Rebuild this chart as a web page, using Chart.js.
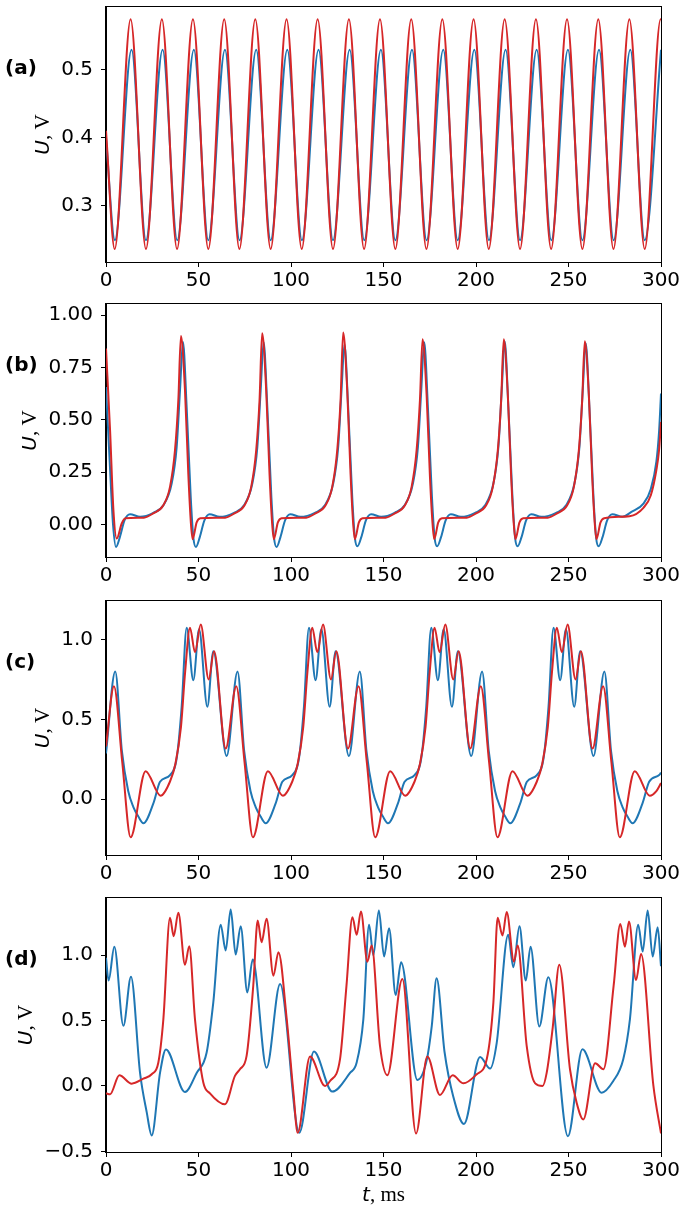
<!DOCTYPE html>
<html>
<head>
<meta charset="utf-8">
<title>U(t) traces</title>
<script src="https://cdn.jsdelivr.net/npm/chart.js@4.4.1/dist/chart.umd.min.js"></script>
<style>
  html, body { margin: 0; padding: 0; background: #fff; }
  #fig { position: relative; width: 687px; height: 1211px; }
  #fig canvas { position: absolute; left: 0; }
</style>
</head>
<body>
<div id="fig">
  <canvas id="panel-a" width="687" height="296" style="top:0px;width:687px;height:296px"></canvas>
  <canvas id="panel-b" width="687" height="296" style="top:296px;width:687px;height:296px"></canvas>
  <canvas id="panel-c" width="687" height="296" style="top:592px;width:687px;height:296px"></canvas>
  <canvas id="panel-d" width="687" height="323" style="top:888px;width:687px;height:323px"></canvas>
</div>
<script>
// ---- data (t in ms, U in V) ----

const xTicks = [0, 50, 100, 150, 200, 250, 300];
const xTickLabels = ['0', '50', '100', '150', '200', '250', '300'];

// (a)
const aYTicks = [0.3, 0.4, 0.5];
const aYTickLabels = ['0.3', '0.4', '0.5'];
const aRedT = [0, 4.7, 13.3, 21.6, 30.2, 38.4, 47.0, 55.3, 63.9, 72.1, 80.7, 89.0, 97.6,
  105.8, 114.4, 122.7, 131.3, 139.5, 148.1, 156.4, 165.0, 173.2, 181.8, 190.1, 198.7,
  206.9, 215.5, 223.8, 232.4, 240.6, 249.2, 257.5, 266.1, 274.3, 282.9, 291.2, 299.8, 300];
const aRedU = [0.41,
  0.236, 0.574, 0.236, 0.574, 0.236, 0.574,
  0.236, 0.574, 0.236, 0.574, 0.236, 0.574,
  0.236, 0.574, 0.236, 0.574, 0.236, 0.574,
  0.236, 0.574, 0.236, 0.574, 0.236, 0.574,
  0.236, 0.574, 0.236, 0.574, 0.236, 0.574,
  0.236, 0.574, 0.236, 0.574, 0.236, 0.574,
  0.574];
const aBlueT = [0, 4.8, 13.8, 21.6, 30.6, 38.5, 47.5, 55.3, 64.3, 72.2, 81.2, 89.0, 98.0,
  105.9, 114.9, 122.7, 131.7, 139.6, 148.6, 156.4, 165.4, 173.3, 182.3, 190.1, 199.1,
  207.0, 216.0, 223.8, 232.8, 240.7, 249.7, 257.5, 266.5, 274.4, 283.4, 291.2, 300];
const aBlueU = [0.40,
  0.249, 0.529, 0.249, 0.529, 0.249, 0.529,
  0.249, 0.529, 0.249, 0.529, 0.249, 0.529,
  0.249, 0.529, 0.249, 0.529, 0.249, 0.529,
  0.249, 0.529, 0.249, 0.529, 0.249, 0.529,
  0.249, 0.529, 0.249, 0.529, 0.249, 0.529,
  0.249, 0.529, 0.249, 0.529, 0.249, 0.529];

// (b)
const bYTicks = [0, 0.25, 0.5, 0.75, 1.0];
const bYTickLabels = ['0.00', '0.25', '0.50', '0.75', '1.00'];
const bRedT = [0, 2.2, 4.0, 5.8, 8.5, 10.5, 20.5, 25.5, 31.0, 34.6, 37.3, 39.1, 40.5,
  42.7, 44.5, 45.9, 46.8, 49.0, 51.0, 64.4, 69.4, 74.9, 78.5, 81.2, 83.0, 84.4,
  86.6, 88.4, 89.8, 90.7, 92.9, 94.9, 108.2, 113.2, 118.7, 122.3, 125.0, 126.8, 128.2,
  130.4, 132.2, 133.6, 134.5, 136.7, 138.7, 151.1, 156.1, 161.6, 165.2, 167.9, 169.7, 171.1,
  173.3, 175.1, 176.5, 177.4, 179.6, 181.6, 195.0, 200.0, 205.5, 209.1, 211.8, 213.6, 215.0,
  217.2, 219.0, 220.4, 221.3, 223.5, 225.5, 238.8, 243.8, 249.3, 252.9, 255.6, 257.4, 258.8,
  261.0, 262.8, 264.2, 265.1, 267.3, 269.3, 283.0, 290.5, 294.5, 297.5, 299.0, 300];
const bRedU = [0.84, 0.45, 0.07, -0.067, 0.005, 0.03, 0.033, 0.053, 0.092, 0.18, 0.355, 0.594, 0.90,
  0.64, 0.24, 0.005, -0.07, 0.01, 0.03, 0.033, 0.053, 0.092, 0.18, 0.355, 0.594, 0.913,
  0.64, 0.24, 0.005, -0.07, 0.01, 0.03, 0.033, 0.053, 0.092, 0.18, 0.355, 0.594, 0.917,
  0.64, 0.24, 0.005, -0.07, 0.01, 0.03, 0.033, 0.053, 0.092, 0.18, 0.355, 0.594, 0.885,
  0.62, 0.23, 0.005, -0.07, 0.01, 0.03, 0.033, 0.053, 0.092, 0.18, 0.355, 0.594, 0.885,
  0.62, 0.23, 0.005, -0.07, 0.01, 0.03, 0.033, 0.053, 0.092, 0.18, 0.355, 0.594, 0.875,
  0.62, 0.23, 0.005, -0.07, 0.01, 0.03, 0.04, 0.08, 0.14, 0.26, 0.36, 0.49];
const bBlueT = [0, 2.0, 3.8, 5.4, 7.5, 10.0, 13.0, 18.4, 25.6, 31.0, 35.5, 38.2, 40.0, 41.6,
  43.6, 45.8, 47.2, 48.6, 50.7, 53.2, 56.0, 61.4, 69.2, 74.6, 79.1, 81.8, 83.6, 85.2,
  87.2, 89.4, 90.8, 92.2, 94.3, 96.8, 99.6, 105.0, 112.9, 118.3, 122.8, 125.5, 127.3, 128.9,
  130.9, 133.1, 134.5, 135.9, 138.0, 140.5, 143.3, 148.7, 156.0, 161.4, 165.9, 168.6, 170.4, 172.0,
  174.0, 176.2, 177.6, 179.0, 181.1, 183.6, 186.4, 191.8, 199.5, 204.9, 209.4, 212.1, 213.9, 215.5,
  217.5, 219.7, 221.1, 222.5, 224.6, 227.1, 229.9, 235.3, 243.3, 248.7, 253.2, 255.9, 257.7, 259.3,
  261.3, 263.5, 264.9, 266.3, 268.4, 270.9, 273.7, 279.1, 284.0, 290.5, 294.5, 297.5, 299.0, 300];
const bBlueU = [0.657, 0.30, 0.0, -0.107, -0.06, 0.02, 0.049, 0.037, 0.056, 0.092, 0.196, 0.37, 0.64, 0.872,
  0.56, 0.13, -0.06, -0.107, -0.06, 0.02, 0.049, 0.037, 0.056, 0.092, 0.196, 0.37, 0.64, 0.87,
  0.56, 0.13, -0.06, -0.107, -0.06, 0.02, 0.049, 0.037, 0.056, 0.092, 0.196, 0.37, 0.64, 0.86,
  0.56, 0.13, -0.06, -0.104, -0.06, 0.02, 0.049, 0.037, 0.056, 0.092, 0.196, 0.37, 0.64, 0.87,
  0.56, 0.13, -0.06, -0.104, -0.06, 0.02, 0.049, 0.037, 0.056, 0.092, 0.196, 0.37, 0.64, 0.875,
  0.56, 0.13, -0.06, -0.104, -0.06, 0.02, 0.049, 0.037, 0.056, 0.092, 0.196, 0.37, 0.64, 0.865,
  0.56, 0.13, -0.06, -0.104, -0.06, 0.02, 0.049, 0.037, 0.06, 0.10, 0.17, 0.30, 0.45, 0.626];

// (c)
const cYTicks = [0, 0.5, 1.0];
const cYTickLabels = ['0.0', '0.5', '1.0'];
const cRedT = [0, 4.3, 8.8, 13.3, 21.4, 29.5, 34.6, 37.5, 40.5, 42.8, 45.4, 48.1, 51.2, 55.5, 58.4, 64.7,
  70.4, 74.9, 79.4, 87.5, 95.6, 100.7, 103.6, 106.6, 108.9, 111.5, 114.2, 117.3, 121.6, 124.5, 130.8,
  136.5, 141.0, 145.5, 153.6, 161.7, 166.8, 169.7, 172.7, 175.0, 177.6, 180.3, 183.4, 187.7, 190.6, 196.9,
  202.6, 207.1, 211.6, 219.7, 227.8, 232.9, 235.8, 238.8, 241.1, 243.7, 246.4, 249.5, 253.8, 256.7, 263.0,
  268.7, 273.2, 277.7, 285.8, 293.9, 297.5, 300];
const cRedU = [0.33, 0.708, 0.23, -0.24, 0.175, 0.021, 0.11, 0.22, 0.45, 0.80, 1.075, 0.92, 1.095, 0.75, 0.927, 0.317,
  0.708, 0.23, -0.24, 0.175, 0.021, 0.11, 0.22, 0.45, 0.80, 1.075, 0.92, 1.095, 0.75, 0.927, 0.317,
  0.708, 0.23, -0.24, 0.175, 0.021, 0.11, 0.22, 0.45, 0.80, 1.075, 0.92, 1.095, 0.75, 0.927, 0.317,
  0.708, 0.23, -0.24, 0.175, 0.021, 0.11, 0.22, 0.45, 0.80, 1.075, 0.92, 1.095, 0.75, 0.927, 0.317,
  0.708, 0.23, -0.24, 0.175, 0.021, 0.05, 0.10];
const cBlueT = [0, 5.0, 8.6, 12.0, 14.8, 17.5, 20.2, 25.6, 29.2, 34.6, 38.2, 40.9, 43.6, 47.2, 50.3, 54.8, 58.0, 65.2,
  71.1, 74.7, 78.1, 80.9, 83.6, 86.3, 91.7, 95.3, 100.7, 104.3, 107.0, 109.7, 113.3, 116.4, 120.9, 124.1, 131.3,
  137.2, 140.8, 144.2, 147.0, 149.7, 152.4, 157.8, 161.4, 166.8, 170.4, 173.1, 175.8, 179.4, 182.5, 187.0, 190.2, 197.4,
  203.3, 206.9, 210.3, 213.1, 215.8, 218.5, 223.9, 227.5, 232.9, 236.5, 239.2, 241.9, 245.5, 248.6, 253.1, 256.3, 263.5,
  269.4, 273.0, 276.4, 279.2, 281.9, 284.6, 290.0, 293.6, 299.0, 300];
const cBlueU = [0.286, 0.80, 0.30, 0.05, -0.05, -0.11, -0.152, -0.027, 0.108, 0.15, 0.255, 0.578, 1.075, 0.745, 1.065, 0.578, 0.927, 0.27,
  0.80, 0.30, 0.05, -0.05, -0.11, -0.152, -0.027, 0.108, 0.15, 0.255, 0.578, 1.075, 0.745, 1.065, 0.578, 0.927, 0.27,
  0.80, 0.30, 0.05, -0.05, -0.11, -0.152, -0.027, 0.108, 0.15, 0.255, 0.578, 1.075, 0.745, 1.065, 0.578, 0.927, 0.27,
  0.80, 0.30, 0.05, -0.05, -0.11, -0.152, -0.027, 0.108, 0.15, 0.255, 0.578, 1.075, 0.745, 1.065, 0.578, 0.927, 0.27,
  0.80, 0.30, 0.05, -0.05, -0.11, -0.152, -0.027, 0.108, 0.15, 0.165];

// (d)
const dYTicks = [-0.5, 0, 0.5, 1.0];
const dYTickLabels = ['\u22120.5', '0.0', '0.5', '1.0'];
const dRedT = [0, 2.2, 7.2, 13.9, 20.2, 24.7, 28.3, 31.0, 34.6, 36.6, 39.1, 42.7, 45.0, 48.1, 52.6, 56.2,
  64.3, 69.7, 72.4, 76.0, 79.6, 82.0, 84.1, 86.8, 90.5, 93.2, 97.7, 101.3, 103.6, 110.3, 118.4, 121.1,
  126.5, 130.0, 133.2, 135.5, 137.8, 141.3, 143.6, 148.1, 152.1, 160.2, 167.6, 173.7, 180.5, 187.4, 193.2,
  200.4, 205.8, 209.4, 211.7, 214.3, 216.6, 220.5, 222.5, 227.4, 232.0, 236.0, 238.2, 241.5, 245.0,
  250.8, 254.4, 258.0, 264.4, 268.9, 274.4, 278.0, 280.5, 282.7, 286.5, 289.2, 295.9, 300];
const dRedU = [-0.056, -0.064, 0.082, 0.018, 0.056, 0.09, 0.18, 0.51, 1.286, 1.146, 1.325, 0.928, 1.069, 0.51, 0.026, -0.056,
  -0.14, 0.077, 0.128, 0.23, 0.767, 1.266, 1.10, 1.279, 0.844, 1.023, 0.51, -0.05, -0.358, 0.225, 0.0, 0.038,
  0.205, 0.77, 1.29, 1.156, 1.335, 0.951, 1.074, 0.307, 0.082, 0.818, -0.363, 0.225, -0.069, 0.082, 0.02,
  0.09, 0.205, 0.64, 1.286, 1.151, 1.33, 0.951, 1.074, 0.307, 0.02, 0.0, 0.1, 0.45, 0.928,
  0.128, -0.128, -0.256, 0.174, 0.128, 0.767, 1.24, 1.066, 1.258, 0.81, 1.01, 0.0, -0.363];
const dBlueT = [0, 1.4, 4.5, 9.4, 13.5, 18.4, 22.0, 24.7, 29.2, 32.4, 42.7, 49.0, 54.4, 58.0,
  62.0, 64.7, 67.4, 70.1, 72.8, 76.4, 79.3, 86.8, 94.1, 104.5, 112.4, 122.3, 131.9, 135.5, 139.1,
  142.2, 144.5, 147.5, 150.3, 153.0, 156.6, 159.5, 168.3, 173.4, 176.1, 178.7, 183.0, 187.7, 193.5,
  202.2, 207.6, 211.2, 217.4, 220.2, 223.5, 226.9, 229.5, 234.2, 239.1, 249.7, 257.5, 267.9,
  274.2, 279.6, 283.2, 287.7, 290.1, 292.8, 295.5, 298.2, 300];
const dBlueU = [0.98, 0.806, 1.066, 0.46, 0.836, 0.10, -0.2, -0.378, 0.10, 0.28, -0.046, 0.10, 0.256, 0.64,
  1.233, 1.036, 1.35, 1.005, 1.222, 0.716, 0.967, 0.14, 0.78, -0.358, 0.263, -0.043, 0.10, 0.18, 0.51,
  1.233, 1.0, 1.343, 0.99, 1.207, 0.696, 0.946, 0.046, 0.2, 0.46, 0.824, 0.26, -0.08, -0.29,
  0.222, 0.133, 0.33, 1.156, 0.908, 1.222, 0.806, 1.066, 0.455, 0.831, -0.384, 0.281, -0.051,
  0.038, 0.205, 0.51, 1.233, 1.028, 1.343, 0.99, 1.215, 0.916];

// ---- drawing ----

const BLUE = '#1f77b4';
const RED = '#d62728';
const TICK_FONT = { family: 'DejaVu Sans', size: 20 };
const TICK_FONT_CSS = '20px "DejaVu Sans"';

function toPoints(ts, us) {
  return ts.map((t, i) => ({ x: t, y: us[i] }));
}

// black box round the plot area (matplotlib spines)
const framePlugin = {
  id: 'frame',
  afterDraw(chart) {
    const { ctx, chartArea: a } = chart;
    ctx.save();
    ctx.strokeStyle = '#000';
    ctx.lineWidth = 1;
    ctx.strokeRect(Math.round(a.left) - 0.5, Math.round(a.top) - 0.5,
      Math.round(a.right - a.left) + 1, Math.round(a.bottom - a.top) + 1);
    ctx.restore();
  }
};

// symbol in italic, unit upright, e.g. "U, V"
function drawMixedLabel(ctx, x, y, angle, sym, unit) {
  ctx.save();
  ctx.translate(x, y);
  ctx.rotate(angle);
  ctx.fillStyle = '#000';
  ctx.textBaseline = 'alphabetic';
  ctx.textAlign = 'left';
  const symFont = 'italic 20px "DejaVu Sans"';
  const unitFont = '21px "Liberation Serif"';
  ctx.font = symFont;
  const w1 = ctx.measureText(sym).width;
  ctx.font = unitFont;
  const w2 = ctx.measureText(unit).width;
  const x0 = -(w1 + w2) / 2;
  ctx.font = symFont;
  ctx.fillText(sym, x0, 0);
  ctx.font = unitFont;
  ctx.fillText(unit, x0 + w1, 0);
  ctx.restore();
}

const labelPlugin = {
  id: 'labels',
  afterDraw(chart, args, opts) {
    const { ctx, chartArea: a } = chart;
    ctx.save();
    // y label sits left of the widest tick label
    ctx.font = TICK_FONT_CSS;
    let maxW = 0;
    opts.yLabels.forEach(s => { maxW = Math.max(maxW, ctx.measureText(s).width); });
    const tickLeft = a.left - 5 - 8 - maxW;
    drawMixedLabel(ctx, tickLeft - 12, (a.top + a.bottom) / 2, -Math.PI / 2, 'U', ', V');

    // panel letter
    ctx.font = 'bold 20px "DejaVu Sans"';
    ctx.fillStyle = '#000';
    ctx.textAlign = 'left';
    ctx.textBaseline = 'middle';
    ctx.fillText(opts.letter, 5, a.top + 0.244 * (a.bottom - a.top));

    if (opts.xLabel) {
      drawMixedLabel(ctx, (a.left + a.right) / 2, a.bottom + 49, 0, 't', ', ms');
    }
    ctx.restore();
  }
};

function makePanel(id, p) {
  const canvas = document.getElementById(id);
  const line = (data, color) => ({
    data,
    borderColor: color,
    borderWidth: 2,
    pointRadius: 0,
    fill: false,
    cubicInterpolationMode: 'monotone'
  });
  return new Chart(canvas, {
    type: 'line',
    data: {
      // red first so it is drawn on top of blue
      datasets: [line(toPoints(p.redT, p.redU), RED), line(toPoints(p.blueT, p.blueU), BLUE)]
    },
    options: {
      responsive: false,
      animation: false,
      events: [],
      layout: { padding: { top: p.padTop, right: 26, left: 0, bottom: 0 } },
      plugins: {
        legend: { display: false },
        tooltip: { enabled: false },
        labels: { letter: p.letter, yLabels: p.yLabels, xLabel: p.xLabel }
      },
      scales: {
        x: {
          type: 'linear',
          min: 0,
          max: 300,
          afterFit: s => { s.height = p.xAxisH; s.paddingLeft = 0; s.paddingRight = 0; },
          afterBuildTicks: s => { s.ticks = xTicks.map(v => ({ value: v })); },
          ticks: {
            font: TICK_FONT,
            color: '#000',
            padding: 2,
            maxRotation: 0,
            autoSkip: false,
            callback: (v, i) => xTickLabels[i]
          },
          grid: { drawOnChartArea: false, tickLength: 5, tickColor: '#000', tickWidth: 1 },
          border: { color: '#000', width: 1 }
        },
        y: {
          type: 'linear',
          min: p.yMin,
          max: p.yMax,
          afterFit: s => { s.width = 106; s.paddingTop = 0; s.paddingBottom = 0; },
          afterBuildTicks: s => { s.ticks = p.yTicks.map(v => ({ value: v })); },
          ticks: {
            font: TICK_FONT,
            color: '#000',
            padding: 8,
            autoSkip: false,
            callback: (v, i) => p.yLabels[i]
          },
          grid: { drawOnChartArea: false, tickLength: 5, tickColor: '#000', tickWidth: 1 },
          border: { color: '#000', width: 1 }
        }
      }
    },
    plugins: [framePlugin, labelPlugin]
  });
}

makePanel('panel-a', {
  letter: '(a)', padTop: 7, xAxisH: 34, yMin: 0.217, yMax: 0.592,
  yTicks: aYTicks, yLabels: aYTickLabels,
  redT: aRedT, redU: aRedU, blueT: aBlueT, blueU: aBlueU
});
makePanel('panel-b', {
  letter: '(b)', padTop: 8, xAxisH: 35, yMin: -0.155, yMax: 1.053,
  yTicks: bYTicks, yLabels: bYTickLabels,
  redT: bRedT, redU: bRedU, blueT: bBlueT, blueU: bBlueU
});
makePanel('panel-c', {
  letter: '(c)', padTop: 9, xAxisH: 33, yMin: -0.351, yMax: 1.242,
  yTicks: cYTicks, yLabels: cYTickLabels,
  redT: cRedT, redU: cRedU, blueT: cBlueT, blueU: cBlueU
});
makePanel('panel-d', {
  letter: '(d)', padTop: 10, xAxisH: 59, yMin: -0.505, yMax: 1.438,
  yTicks: dYTicks, yLabels: dYTickLabels, xLabel: true,
  redT: dRedT, redU: dRedU, blueT: dBlueT, blueU: dBlueU
});
</script>
</body>
</html>
